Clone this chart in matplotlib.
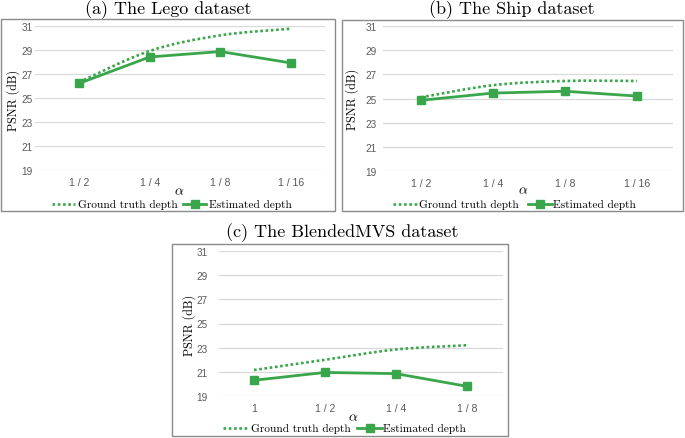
import matplotlib
matplotlib.use("Agg")
import matplotlib.pyplot as plt
from matplotlib.path import Path
from matplotlib.patches import PathPatch, Rectangle
from matplotlib.lines import Line2D
import numpy as np

plt.rcParams['mathtext.fontset'] = 'cm'

# ---------------- data ----------------
lego_labels = ["1 / 2", "1 / 4", "1 / 8", "1 / 16"]
lego_gt = [26.3, 28.9, 30.2, 30.75]
lego_est = [26.2, 28.4, 28.85, 27.9]

ship_labels = ["1 / 2", "1 / 4", "1 / 8", "1 / 16"]
ship_gt = [25.1, 26.1, 26.45, 26.45]
ship_est = [24.85, 25.45, 25.6, 25.2]

bmvs_labels = ["1", "1 / 2", "1 / 4", "1 / 8"]
bmvs_gt = [21.15, 22.0, 22.85, 23.2]
bmvs_est = [20.3, 20.95, 20.85, 19.8]

yticks = [19, 21, 23, 25, 27, 29, 31]
titles = ["(a) The Lego dataset", "(b) The Ship dataset", "(c) The BlendedMVS dataset"]

W, H = 685, 439
GREEN = "#3aa64c"
GRID = "#d9d9d9"
TICKC = "#595959"
SERIF = "cmr10"
SANS = "Liberation Sans"

fig = plt.figure(figsize=(W / 100, H / 100), dpi=100)


def fx(x):
    return x / W


def fy(y):
    return 1 - y / H


def smooth_path(xs, ys):
    pts = np.column_stack([xs, ys]).astype(float)
    n = len(pts)
    verts = [pts[0]]
    codes = [Path.MOVETO]
    for i in range(n - 1):
        p0 = pts[i - 1] if i > 0 else pts[i]
        p1 = pts[i]
        p2 = pts[i + 1]
        p3 = pts[i + 2] if i + 2 < n else pts[i + 1]
        c1 = p1 + (p2 - p0) / 6.0
        c2 = p2 - (p3 - p1) / 6.0
        verts += [c1, c2, p2]
        codes += [Path.CURVE4] * 3
    return Path(verts, codes)


panels = [
    dict(labels=lego_labels, gt=lego_gt, est=lego_est, title=titles[0],
         box=(1, 20, 335, 212), x0=79, dx=70.7, gl=35, gr=325, y31=26.7, y19=171,
         tc=(168, 10), yl=(13, 100), al=(179, 191), ly=205,
         dot=(52, 75), gtx=78, sol=(183, 206), estx=209, tpad=2),
    dict(labels=ship_labels, gt=ship_gt, est=ship_est, title=titles[1],
         box=(342, 21, 683, 212), x0=421, dx=72, gl=383, gr=673, y31=27, y19=172,
         tc=(512, 10), yl=(352, 99), al=(523, 190), ly=205,
         dot=(393, 417), gtx=419, sol=(528, 552), estx=553, tpad=6),
    dict(labels=bmvs_labels, gt=bmvs_gt, est=bmvs_est, title=titles[2],
         box=(172, 245, 508, 437), x0=254, dx=71, gl=219, gr=503, y31=252, y19=397,
         tc=(342, 233), yl=(189, 325), al=(353, 417), ly=429,
         dot=(223, 248), gtx=251, sol=(357, 382), estx=383, tpad=11),
]

for p in panels:
    l, t, r, b = p["box"]
    fig.patches.append(Rectangle((fx(l), fy(b)), fx(r - l), (b - t) / H,
                                 transform=fig.transFigure, fill=False,
                                 edgecolor="#8a8a8a", lw=1.0, zorder=0))

    ax = fig.add_axes([fx(p["gl"]), fy(p["y19"]), fx(p["gr"] - p["gl"]),
                       (p["y19"] - p["y31"]) / H])
    ax.patch.set_alpha(0)
    xl = (p["gl"] - p["x0"]) / p["dx"]
    xr = (p["gr"] - p["x0"]) / p["dx"]
    ax.set_xlim(xl, xr)
    ax.set_ylim(19, 31)
    for s in ax.spines.values():
        s.set_visible(False)
    for yv in yticks:
        ax.axhline(yv, color=GRID, lw=0.9, zorder=0)
    x = np.arange(len(p["labels"]))
    ax.set_yticks(yticks)
    ax.set_yticklabels([str(v) for v in yticks], fontsize=7.2, color=TICKC, family=SANS)
    ax.set_xticks(x)
    ax.set_xticklabels(p["labels"], fontsize=7.6, color=TICKC, family=SANS)
    ax.tick_params(axis="both", length=0)
    ax.tick_params(axis="y", pad=p["tpad"] * 0.72)
    ax.tick_params(axis="x", pad=5)

    patch = PathPatch(smooth_path(x, p["gt"]), fill=False, edgecolor=GREEN,
                      lw=1.9, linestyle=(0, (1, 1)), zorder=3, clip_on=False)
    ax.add_patch(patch)
    ax.plot(x, p["est"], color=GREEN, lw=2.0, marker="s", markersize=5.5,
            zorder=4, clip_on=False)

    fig.text(fx(p["tc"][0]), fy(p["tc"][1]), p["title"], family=SERIF,
             fontsize=13, ha="center", va="center")
    fig.text(fx(p["yl"][0]), fy(p["yl"][1]), "PSNR (dB)", family=SERIF,
             fontsize=8.7, rotation=90, ha="center", va="center")
    fig.text(fx(p["al"][0]), fy(p["al"][1]), r"$\alpha$", fontsize=10,
             ha="center", va="center")

    ly = fy(p["ly"])
    fig.lines.append(Line2D([fx(p["dot"][0]), fx(p["dot"][1])], [ly, ly],
                            transform=fig.transFigure, color=GREEN, lw=1.9,
                            linestyle=(0, (1, 1))))
    fig.text(fx(p["gtx"]), ly, "Ground truth depth", family=SERIF, fontsize=8.2,
             ha="left", va="center")
    fig.lines.append(Line2D([fx(p["sol"][0]), fx(p["sol"][1])], [ly, ly],
                            transform=fig.transFigure, color=GREEN, lw=2.0))
    fig.lines.append(Line2D([fx((p["sol"][0] + p["sol"][1]) / 2)], [ly],
                            transform=fig.transFigure, color=GREEN, marker="s",
                            markersize=5.5, lw=0))
    fig.text(fx(p["estx"]), ly, "Estimated depth", family=SERIF, fontsize=8.2,
             ha="left", va="center")

fig.savefig("out.png", dpi=100)
